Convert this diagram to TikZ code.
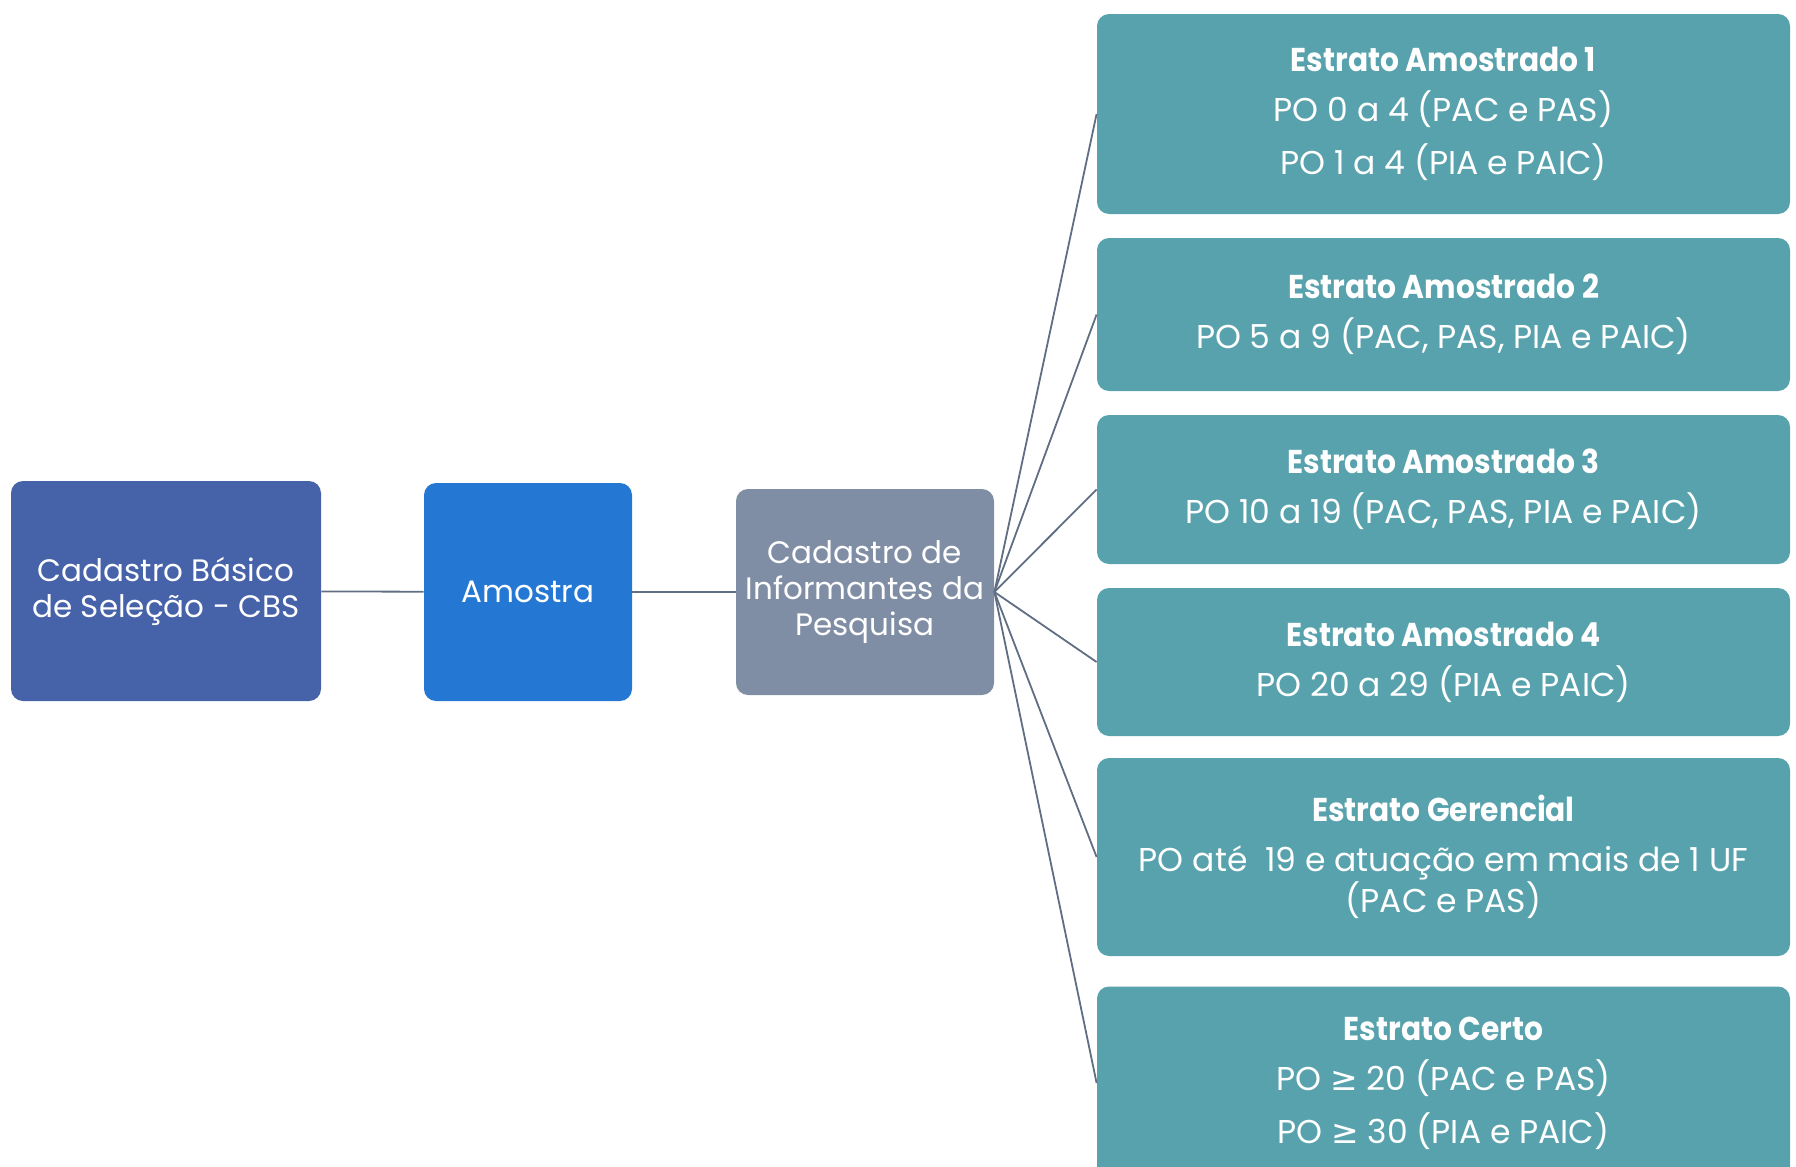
\documentclass[tikz,border=0pt]{standalone}
\usepackage{fontspec}
\setmainfont{Poppins}
\newfontfamily\titulofont[FakeStretch=0.9]{Poppins}
\newfontfamily\simbfont{DejaVu Sans}
\definecolor{azulcbs}{HTML}{4662A9}
\definecolor{azulamostra}{HTML}{2478D4}
\definecolor{cinzacad}{HTML}{808EA5}
\definecolor{verdeestrato}{HTML}{58A2AD}
\definecolor{cinzalinha}{HTML}{5F6E82}
\newcommand{\maiorigual}{{\simbfont ≥}}
\newcommand{\titulo}[1]{{\titulofont\bfseries #1}}

\begin{document}
\begin{tikzpicture}[x=0.5pt,y=-0.5pt,
  caixa/.style={rounded corners=6pt, text=white, align=center, inner sep=0pt},
  inicial/.style={caixa, font={\fontsize{15.5}{18}\selectfont}},
  estrato/.style={caixa, fill=verdeestrato, minimum width=346.5pt,
    font={\fontsize{16.5}{18}\selectfont}},
  linha/.style={cinzalinha, line width=0.9pt}]
\useasboundingbox (0,0) rectangle (1796,1167);
\clip (0,0) rectangle (1796,1167);
% fluxo principal
\node[inicial, fill=azulcbs, minimum width=155pt, minimum height=110pt] (cbs) at (166,591) {Cadastro Básico\\de Seleção - CBS};
\node[inicial, fill=azulamostra, minimum width=104pt, minimum height=109pt] (amostra) at (528,592) {Amostra};
\node[inicial, fill=cinzacad, minimum width=129pt, minimum height=103pt] (cip) at (865,592) {Cadastro de\\Informantes da\\Pesquisa};
% estratos
\node[estrato, minimum height=100pt] (s1) at (1443.5,114) {\titulo{Estrato Amostrado 1}\\[7pt]PO 0 a 4 (PAC e PAS)\\[7pt]PO 1 a 4 (PIA e PAIC)};
\node[estrato, minimum height=76.5pt] (s2) at (1443.5,314.5) {\titulo{Estrato Amostrado 2}\\[7pt]PO 5 a 9 (PAC, PAS, PIA e PAIC)};
\node[estrato, minimum height=74.5pt] (s3) at (1443.5,489.5) {\titulo{Estrato Amostrado 3}\\[7pt]PO 10 a 19 (PAC, PAS, PIA e PAIC)};
\node[estrato, minimum height=74pt] (s4) at (1443.5,662) {\titulo{Estrato Amostrado 4}\\[7pt]PO 20 a 29 (PIA e PAIC)};
\node[estrato, minimum height=99pt] (s5) at (1443.5,857) {\titulo{Estrato Gerencial}\\[7pt]PO até~~19 e atuação em mais de 1 UF\\(PAC e PAS)};
\node[estrato, minimum height=96.5pt] (s6) at (1443.5,1083) {\titulo{Estrato Certo}\\[7pt]PO \maiorigual{} 20 (PAC e PAS)\\[7pt]PO \maiorigual{} 30 (PIA e PAIC)};
% ligacoes
\draw[linha] (cbs) -- (amostra);
\draw[linha] (amostra) -- (cip);
\foreach \s in {s1,s2,s3,s4,s5,s6}
  \draw[linha] (cip.east) -- (\s.west);
\end{tikzpicture}
\end{document}
